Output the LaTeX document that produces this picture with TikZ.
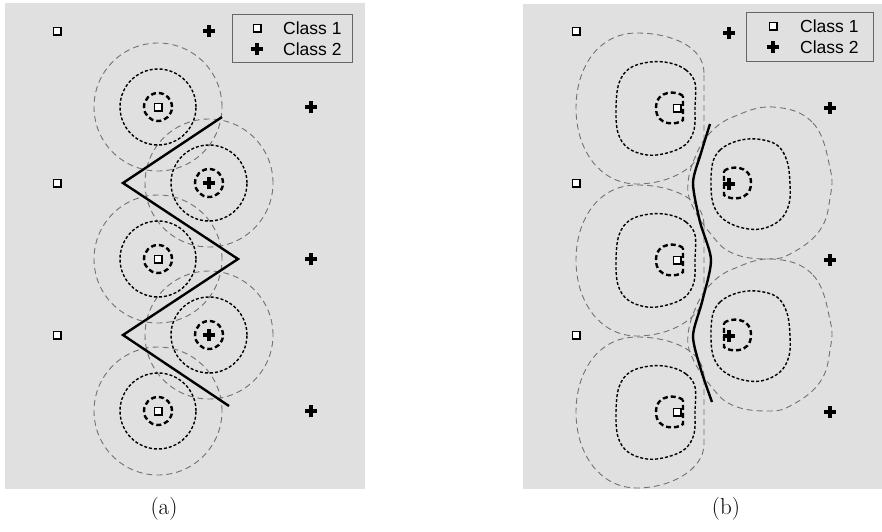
\documentclass[tikz,border=0pt]{standalone}
\usepackage{fontspec}
\newfontfamily\legfont{Liberation Sans}
\usetikzlibrary{shapes.misc}
\definecolor{bg}{HTML}{E0E0E0}
\definecolor{outg}{HTML}{727272}
\definecolor{legborder}{HTML}{666666}
\begin{document}
\begin{tikzpicture}[x=1pt,y=-1pt,
  outerc/.style={draw=outg, line width=0.9pt, dash pattern=on 6pt off 4pt},
  midc/.style={draw=black, line width=1.4pt, dash pattern=on 3pt off 2pt},
  innc/.style={draw=black, line width=2.4pt, dash pattern=on 5pt off 3pt},
  bound/.style={draw=black, line width=2.4pt, line join=miter},
  sqmark/.style={rectangle, draw=black, fill=white, line width=1.5pt, minimum size=7.5pt, inner sep=0pt},
  plusmark/.style={cross out, draw=black, line width=3.8pt, minimum size=8.5pt, inner sep=0pt, outer sep=0pt, rotate=45},
  legbox/.style={draw=legborder, line width=0.9pt, fill=bg},
  legtext/.style={font=\legfont\fontsize{17.5}{20}\selectfont, anchor=west, inner sep=0pt},
  captext/.style={font=\fontsize{23}{27}\selectfont, anchor=base, inner sep=0pt},
  c1outer/.pic={\draw[outerc] (64,-35) .. controls (64,-62) and (30,-75) .. (-3,-75) .. controls (-42,-75) and (-64,-40) .. (-64,0) .. controls (-64,42) and (-40,76) .. (-3,76) .. controls (30,76) and (64,58) .. (64,32) -- cycle;},
  c1mid/.pic={\draw[midc] plot[smooth cycle, tension=0.6] coordinates {(40,-25) (31,-38) (15,-45) (-5,-46) (-25,-40) (-36,-25) (-39,0) (-37,25) (-27,40) (-8,47) (12,45) (30,37) (39,22) (40,0)};},
  c1inn/.pic={\draw[innc] (13,-12) .. controls (8,-17) and (-14,-19) .. (-14,0) .. controls (-14,19) and (8,17) .. (13,12) -- cycle;},
  c2outer/.pic={\draw[outerc] plot[smooth cycle, tension=0.7] coordinates {(11,-76) (51,-60) (68,-15) (68,15) (58,47) (30,70) (5,76) (-30,70) (-52,50) (-70,22) (-74,0) (-66,-28) (-52,-50) (-29,-66)};},
  c2mid/.pic={\draw[midc] plot[smooth cycle, tension=0.6] coordinates {(-39,-18) (-31,-34) (-14,-43) (6,-45) (26,-39) (36,-23) (39,0) (38,20) (29,36) (10,45) (-12,43) (-30,33) (-39,15)};},
  c2inn/.pic={\draw[innc] (-13,-12) .. controls (-8,-17) and (14,-19) .. (14,0) .. controls (14,19) and (-8,17) .. (-13,12) -- cycle;}
]
\useasboundingbox (0,0) rectangle (882,531);
% backgrounds
\fill[bg] (5,3) rectangle (365,489);
\fill[bg] (523,4) rectangle (882,489);

% ---------------- panel (a) ----------------
\coordinate (s1) at (158,107);
\coordinate (s2) at (158,259);
\coordinate (s3) at (158,411);
\coordinate (p1) at (209,183);
\coordinate (p2) at (209,335);
\foreach \c in {s1,s2,s3,p1,p2}{
  \draw[outerc] (\c) circle[radius=64pt];
}
\foreach \c in {s1,s2,s3,p1,p2}{
  \draw[midc] (\c) circle[radius=38pt];
  \draw[innc] (\c) circle[radius=14pt];
}
\coordinate (ba1) at (222,117);
\coordinate (ba2) at (123,183);
\coordinate (ba3) at (238,259);
\coordinate (ba4) at (123,335);
\coordinate (ba5) at (229,406);
\draw[bound] (ba1) -- (ba2) -- (ba3) -- (ba4) -- (ba5);

\node[sqmark] (as1) at (57,31) {};
\node[sqmark] (as2) at (57,183) {};
\node[sqmark] (as3) at (57,335) {};
\node[sqmark] (as4) at (s1) {};
\node[sqmark] (as5) at (s2) {};
\node[sqmark] (as6) at (s3) {};
\node[plusmark] (ap1) at (209,31) {};
\node[plusmark] (ap2) at (311,107) {};
\node[plusmark] (ap3) at (311,259) {};
\node[plusmark] (ap4) at (311,411) {};
\node[plusmark] (ap5) at (p1) {};
\node[plusmark] (ap6) at (p2) {};

\draw[legbox] (232,14) rectangle (352,62);
\node[sqmark] (lam1) at (257,28) {};
\node[plusmark] (lam2) at (257,49) {};
\node[legtext] (lat1) at (283,28) {Class 1};
\node[legtext] (lat2) at (283,49) {Class 2};

\node[captext] (capa) at (164,514) {(a)};

% ---------------- panel (b) ----------------
\foreach \y in {108,260,412}{
  \pic at (640,\y) {c1outer};
}
\foreach \y in {183,335}{
  \pic at (762,\y) {c2outer};
}
\foreach \y in {108,260,412}{
  \pic at (655,\y) {c1mid};
  \pic at (670,\y) {c1inn};
}
\foreach \y in {184,336}{
  \pic at (751,\y) {c2mid};
}
\foreach \y in {183,335}{
  \pic at (737,\y) {c2inn};
}
\draw[bound] plot[smooth, tension=0.45] coordinates {(710,124) (701,153) (693,183) (700,222) (711,260) (702,302) (693,336) (701,370) (712,402)};

\node[sqmark] (bs1) at (576,31) {};
\node[sqmark] (bs2) at (576,183) {};
\node[sqmark] (bs3) at (576,335) {};
\node[sqmark] (bs4) at (677,108) {};
\node[sqmark] (bs5) at (677,260) {};
\node[sqmark] (bs6) at (677,412) {};
\node[plusmark] (bp1) at (729,33) {};
\node[plusmark] (bp2) at (830,108) {};
\node[plusmark] (bp3) at (830,260) {};
\node[plusmark] (bp4) at (830,412) {};
\node[plusmark] (bp5) at (729,184) {};
\node[plusmark] (bp6) at (729,336) {};

\draw[legbox] (746,12) rectangle (873,61);
\node[sqmark] (lbm1) at (773,26) {};
\node[plusmark] (lbm2) at (773,47) {};
\node[legtext] (lbt1) at (800,26) {Class 1};
\node[legtext] (lbt2) at (800,47) {Class 2};

\node[captext] (capb) at (726,514) {(b)};
\end{tikzpicture}
\end{document}
